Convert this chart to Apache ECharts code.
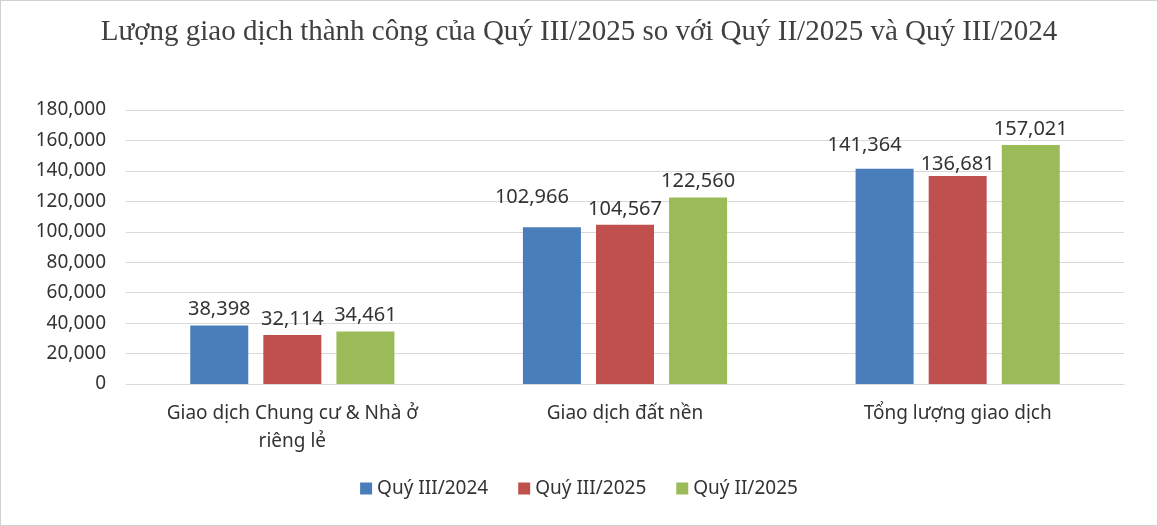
<!DOCTYPE html>
<html><head><meta charset="utf-8">
<script src="https://cdn.jsdelivr.net/npm/echarts@6/dist/echarts.min.js"></script>
<style>html,body{margin:0;padding:0;background:#fff}#c{width:1156px;height:524px;border:1px solid #d0d0d0}</style>
</head><body><div id="c"></div>
<script>
const categories = ['Giao dịch Chung cư & Nhà ở\nriêng lẻ', 'Giao dịch đất nền', 'Tổng lượng giao dịch'];
const seriesNames = ['Quý III/2024', 'Quý III/2025', 'Quý II/2025'];
const q3_2024 = [38398, 102966, 141364];
const q3_2025 = [32114, 104567, 136681];
const q2_2025 = [34461, 122560, 157021];
const colors = ['#4a7ebb', '#c0504d', '#9bbb59'];
const font = 'Noto Sans';
const chart = echarts.init(document.getElementById('c'));
function mk(name, data, color, offsets) {
  return {
    name, type: 'bar', data: data.map((v, i) => ({value: v, label: offsets[i] ? {offset: offsets[i]} : {}})),
    itemStyle: {color}, barWidth: 58, barGap: '26%',
    label: {show: true, position: 'top', distance: 6, fontFamily: font, fontSize: 20, color: '#333',
      formatter: p => p.value.toLocaleString('en-US')}
  };
}
chart.setOption({
  animation: false,
  title: {text: 'Lượng giao dịch thành công của Quý III/2025 so với Quý II/2025 và Quý III/2024', left: 'center', top: 12,
    textStyle: {fontFamily: 'Liberation Serif', fontSize: 29, fontWeight: 'normal', color: '#404040'}},
  legend: {bottom: 22, itemWidth: 12, itemHeight: 12, itemGap: 30, icon: 'rect',
    textStyle: {fontFamily: font, fontSize: 19, color: '#333'}},
  grid: {left: 125, right: 33, top: 109, bottom: 141},
  xAxis: {type: 'category', data: categories, axisTick: {show: false},
    axisLine: {lineStyle: {color: '#d9d9d9'}},
    axisLabel: {fontFamily: font, fontSize: 19, color: '#333', margin: 16, lineHeight: 28}},
  yAxis: {type: 'value', min: 0, max: 180000, interval: 20000,
    axisLabel: {fontFamily: font, fontSize: 19, color: '#333', margin: 20, formatter: v => v.toLocaleString('en-US')},
    splitLine: {lineStyle: {color: '#d9d9d9'}}},
  color: colors,
  series: [
    mk(seriesNames[0], q3_2024, colors[0], [null, [-20, -14], [-20, -8]]),
    mk(seriesNames[1], q3_2025, colors[1], [null, null, [0, 4]]),
    mk(seriesNames[2], q2_2025, colors[2], [null, null, null])
  ]
});
</script></body></html>
